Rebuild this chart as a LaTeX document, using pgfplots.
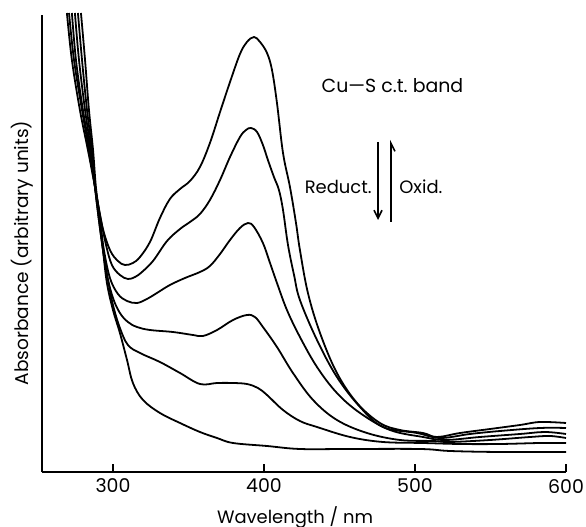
\documentclass[border=0pt]{standalone}
\usepackage{pgfplots}
\pgfplotsset{compat=1.18}
\usepackage{fontspec}
\setmainfont{Poppins}
\usetikzlibrary{arrows.meta}
\begin{document}
\begin{tikzpicture}
\path[use as bounding box] (0bp,0bp) rectangle (293bp,263.5bp);
\begin{axis}[
  at={(21bp,27.5bp)}, anchor=south west,
  scale only axis, width=262bp, height=228.5bp,
  xmin=253, xmax=600, ymin=0, ymax=4.57,
  axis x line=bottom, axis y line=left,
  axis line style={-, line width=1pt},
  xtick={300,400,500,600}, ytick=\empty,
  tick align=inside, major tick length=4bp,
  tick style={line width=0.8pt, black},
  /pgf/number format/assume math mode=true,
  xticklabel style={font=\fontsize{9.5}{10}\selectfont},
  clip=false,
  cycle list={{black, mark=none}},
  every axis plot/.append style={line width=0.9pt, smooth, tension=0.6},
]
% curve 1 (most oxidised)
\addplot coordinates {(269.5,4.59)(272.8,4.12)(278.1,3.62)(283.4,3.22)(288.1,2.85)(292.7,2.47)(298.0,2.22)(303.3,2.11)(307.9,2.07)(313.2,2.09)(317.9,2.15)(324.5,2.30)(331.1,2.54)(337.7,2.73)(344.4,2.83)(351.0,2.91)(357.6,3.05)(364.2,3.29)(370.9,3.60)(377.5,3.90)(384.1,4.18)(388.7,4.30)(393.4,4.35)(397.4,4.30)(402.0,4.19)(405.3,4.02)(408.6,3.69)(412.6,3.19)(417.2,2.85)(421.2,2.49)(423.8,2.22)(429.1,1.79)(437.1,1.39)(448.3,0.99)(461.6,0.69)(476.8,0.49)(490.1,0.42)(505.3,0.39)(514.6,0.35)(529.8,0.39)(549.7,0.43)(569.5,0.47)(582.8,0.50)(600.0,0.49)};
% curve 2
\addplot coordinates {(270.9,4.59)(274.2,4.12)(279.5,3.62)(284.1,3.22)(288.1,2.85)(292.1,2.52)(295.4,2.27)(299.3,2.07)(304.6,1.97)(309.9,1.93)(314.6,1.95)(319.2,2.00)(326.5,2.11)(335.8,2.31)(344.4,2.43)(351.0,2.50)(357.6,2.58)(364.2,2.72)(370.9,2.92)(377.5,3.15)(384.1,3.35)(388.1,3.42)(391.4,3.44)(395.4,3.40)(399.3,3.27)(402.6,3.12)(406.6,2.95)(409.9,2.82)(412.6,2.62)(415.9,2.27)(419.9,1.97)(423.8,1.72)(435.1,1.32)(448.3,0.95)(463.6,0.65)(478.8,0.45)(501.3,0.39)(516.6,0.34)(536.4,0.38)(556.3,0.41)(582.8,0.44)(600.0,0.44)};
% curve 3
\addplot coordinates {(272.8,4.59)(275.5,4.12)(280.1,3.62)(284.8,3.22)(288.1,2.85)(291.4,2.52)(294.0,2.22)(298.0,1.94)(303.3,1.78)(309.3,1.71)(315.9,1.69)(322.5,1.73)(329.1,1.79)(337.7,1.87)(347.7,1.94)(357.6,2.00)(364.2,2.06)(370.9,2.18)(377.5,2.32)(384.1,2.44)(389.4,2.49)(393.4,2.45)(399.3,2.29)(404.0,2.09)(408.6,1.89)(415.2,1.62)(423.8,1.35)(435.1,1.05)(448.3,0.79)(463.6,0.59)(483.4,0.42)(505.3,0.35)(519.9,0.32)(543.0,0.35)(569.5,0.38)(586.1,0.40)(600.0,0.38)};
% curve 4
\addplot coordinates {(274.8,4.59)(277.5,4.12)(281.5,3.62)(285.4,3.22)(288.1,2.85)(290.7,2.52)(293.4,2.22)(296.0,1.97)(300.0,1.74)(304.6,1.59)(309.9,1.50)(315.9,1.45)(324.5,1.42)(339.7,1.40)(353.0,1.37)(359.6,1.36)(368.9,1.42)(379.5,1.52)(388.7,1.57)(394.0,1.55)(399.3,1.45)(408.6,1.25)(419.2,0.99)(432.5,0.72)(448.3,0.52)(468.2,0.39)(490.1,0.32)(511.9,0.31)(523.2,0.30)(549.7,0.32)(576.2,0.35)(589.4,0.36)(600.0,0.34)};
% curve 5
\addplot coordinates {(276.8,4.59)(279.5,4.12)(282.8,3.62)(286.1,3.22)(288.1,2.85)(290.7,2.52)(293.4,2.22)(296.7,1.92)(300.0,1.67)(304.6,1.44)(309.9,1.27)(317.9,1.19)(331.1,1.10)(344.4,0.99)(357.6,0.88)(368.9,0.89)(379.5,0.89)(388.7,0.88)(396.0,0.84)(402.0,0.77)(412.6,0.62)(423.8,0.51)(435.1,0.45)(457.0,0.35)(478.8,0.30)(505.3,0.29)(529.8,0.28)(556.3,0.28)(582.8,0.29)(600.0,0.29)};
% curve 6 (fully reduced)
\addplot coordinates {(278.8,4.59)(281.5,4.12)(284.1,3.62)(286.8,3.22)(288.7,2.85)(291.4,2.52)(293.4,2.22)(296.0,1.89)(300.0,1.62)(304.6,1.39)(309.3,1.12)(313.2,0.89)(319.9,0.72)(331.1,0.59)(344.4,0.49)(357.6,0.40)(368.9,0.34)(379.5,0.29)(402.0,0.26)(423.8,0.23)(455.0,0.23)(503.3,0.23)(523.2,0.21)(556.3,0.20)(600.0,0.20)};
\end{axis}
\node[font=\fontsize{9.5}{10}\selectfont] at (196.25bp,220.5bp) {Cu\textemdash S c.t.\ band};
\node[font=\fontsize{9}{10}\selectfont, anchor=east, inner sep=0pt] at (186bp,170bp) {Reduct.};
\node[font=\fontsize{9}{10}\selectfont, anchor=west, inner sep=0pt] at (199.5bp,170bp) {Oxid.};
\draw[line width=0.8pt, -{Straight Barb[length=4bp,width=4bp]}] (189bp,192.5bp) -- (189bp,153.5bp);
\draw[line width=0.8pt, -{Straight Barb[length=4bp,width=4bp,right]}] (195.5bp,152.5bp) -- (195.5bp,193.5bp);
\node[font=\fontsize{9.3}{10}\selectfont, rotate=90] at (11.25bp,137bp) {Absorbance (arbitrary units)};
\node[font=\fontsize{9}{10}\selectfont] at (147.5bp,5bp) {Wavelength / nm};
\end{tikzpicture}
\end{document}
